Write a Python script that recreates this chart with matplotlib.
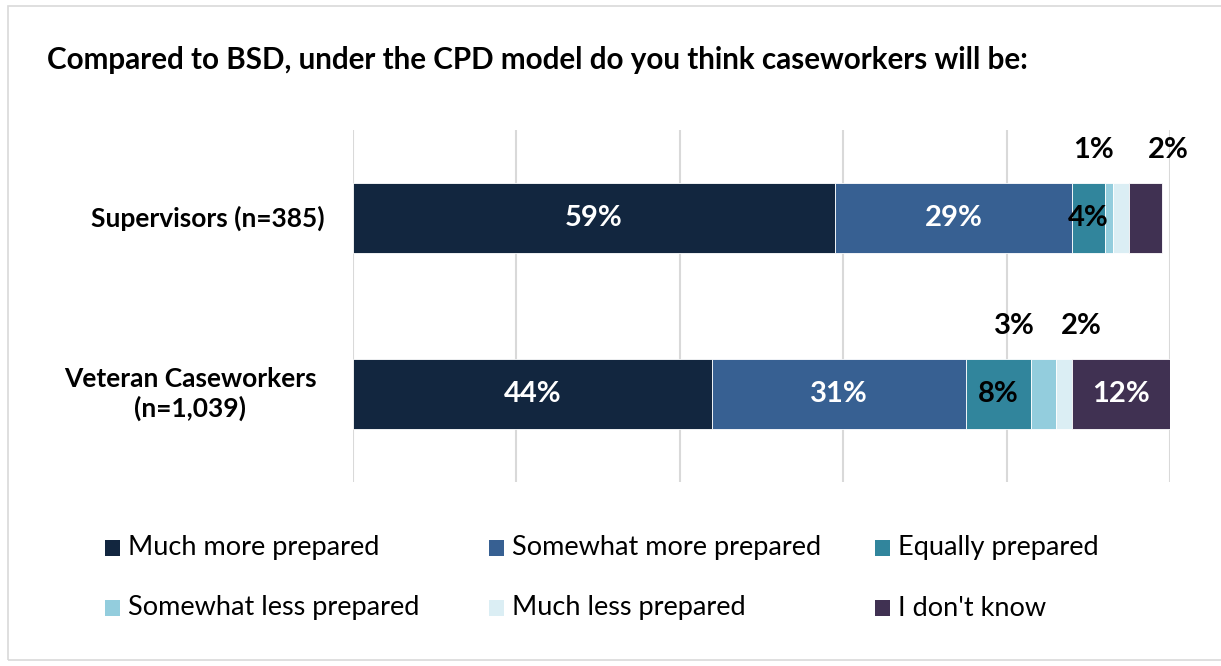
import matplotlib
matplotlib.use("Agg")
import matplotlib.pyplot as plt
from matplotlib.patches import Rectangle
import numpy as np

# Survey responses (percent of respondents)
groups = ["Supervisors (n=385)", "Veteran Caseworkers\n(n=1,039)"]
responses = ["Much more prepared", "Somewhat more prepared", "Equally prepared",
             "Somewhat less prepared", "Much less prepared", "I don't know"]
supervisors = [59, 29, 4, 1, 2, 4]
veterans = [44, 31, 8, 3, 2, 12]
colors = ["#12263F", "#376092", "#31859C", "#93CDDD", "#DBEEF4", "#403152"]

# Which segment labels go inside the bar and in which colour ("" = no label)
inside_color = [
    ["white", "white", "black", "", "", ""],
    ["white", "white", "black", "", "", "white"],
]
# Small segments labelled above the bar, with a horizontal nudge (data units)
above_labels = [
    {3: -1.9, 4: 5.75},
    {3: -3.6, 4: 2.1},
]

FONT = "Lato"
plt.rcParams["font.family"] = [FONT, "DejaVu Sans"]
W, H = 1221, 666

fig = plt.figure(figsize=(W / 100, H / 100), dpi=100)
fig.patches.append(Rectangle((8 / W, 6 / H), 1.2, 1 - 12 / H,
                             transform=fig.transFigure, fill=False,
                             edgecolor="#D9D9D9", linewidth=1.2))

ax = fig.add_axes([353 / W, 1 - 482 / H, 817 / W, 352 / H])
data = np.array([supervisors, veterans], dtype=float)
ypos = np.arange(len(groups))
left = np.zeros(len(groups))
for j, resp in enumerate(responses):
    ax.barh(ypos, data[:, j], left=left, height=0.4, color=colors[j],
            edgecolor="white", linewidth=0.6, label=resp, zorder=3)
    for i in range(len(groups)):
        val = data[i, j]
        cx = left[i] + val / 2
        if inside_color[i][j]:
            ax.text(cx, ypos[i], f"{val:.0f}%", ha="center", va="center",
                    color=inside_color[i][j], fontsize=21, fontweight="bold",
                    zorder=4)
        if j in above_labels[i]:
            ax.text(cx + above_labels[i][j], ypos[i] - 0.385, f"{val:.0f}%",
                    ha="center", va="center", color="black", fontsize=21,
                    fontweight="bold", zorder=4)
    left += data[:, j]

ax.set_xlim(0, 100)
ax.set_ylim(1.5, -0.5)
ax.set_xticks(np.arange(0, 101, 20))
ax.xaxis.grid(True, color="#D9D9D9", linewidth=1.5, zorder=0)
ax.tick_params(axis="both", length=0, labelbottom=False)
ax.set_yticks(ypos)
ax.set_yticklabels([])
for s in ax.spines.values():
    s.set_visible(False)

# Group labels
ax.text(-0.035, 0, groups[0], transform=ax.get_yaxis_transform(),
        ha="right", va="center", fontsize=19, fontweight="bold")
ax.text(-0.199, 1, groups[1], transform=ax.get_yaxis_transform(),
        ha="center", va="center", fontsize=19, fontweight="bold",
        multialignment="center", linespacing=1.25)

fig.text(47 / W, 1 - 60 / H,
         "Compared to BSD, under the CPD model do you think caseworkers will be:",
         ha="left", va="center", fontsize=21.3, fontweight="bold")

# Legend: three fixed-width columns, filled row by row
col_x = [105, 489, 875]
row_y = [548, 608]
for k, (resp, col) in enumerate(zip(responses, colors)):
    x0 = col_x[k % 3]
    y0 = row_y[k // 3]
    fig.patches.append(Rectangle((x0 / W, 1 - (y0 + 8) / H), 15 / W, 16 / H,
                                 transform=fig.transFigure, facecolor=col,
                                 edgecolor="none"))
    fig.text((x0 + 23) / W, 1 - y0 / H, resp, ha="left", va="center",
             fontsize=19.5)

fig.savefig("out.png", dpi=100)
